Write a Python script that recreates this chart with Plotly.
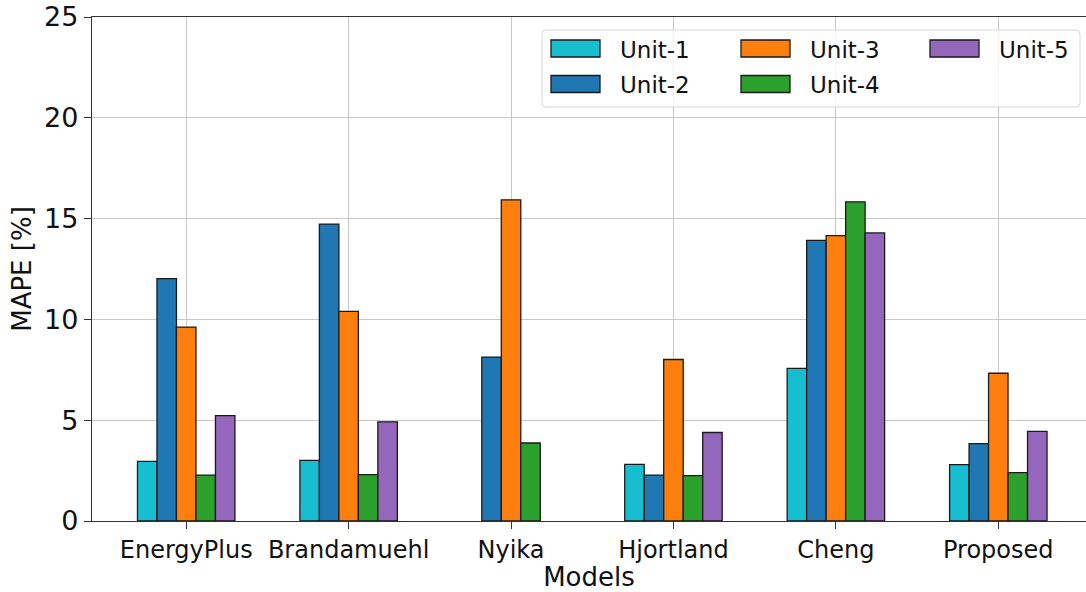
import plotly.graph_objects as go

# Models compared and per-unit MAPE values [%]
models = ["EnergyPlus", "Brandamuehl", "Nyika", "Hjortland", "Cheng", "Proposed"]
units = ["Unit-1", "Unit-2", "Unit-3", "Unit-4", "Unit-5"]

unit_1 = [2.96, 3.01, None, 2.81, 7.57, 2.80]
unit_2 = [12.02, 14.73, 8.13, 2.28, 13.92, 3.84]
unit_3 = [9.62, 10.40, 15.93, 8.01, 14.16, 7.33]
unit_4 = [2.28, 2.30, 3.87, 2.25, 15.83, 2.40]
unit_5 = [5.23, 4.92, None, 4.39, 14.29, 4.45]

y_ticks = [0, 5, 10, 15, 20, 25]

colors = ["#17becf", "#1f77b4", "#ff7f0e", "#2ca02c", "#9467bd"]
series = [unit_1, unit_2, unit_3, unit_4, unit_5]

FONT = "DejaVu Sans"
FIG_W, FIG_H = 1086, 592
M_L, M_R, M_T, M_B = 92, 0, 17, 71
PLOT_W = FIG_W - M_L - M_R
PLOT_H = FIG_H - M_T - M_B


def px_x(x):
    """Pixel column -> paper x."""
    return (x - M_L) / PLOT_W


def px_y(y):
    """Pixel row -> paper y."""
    return (FIG_H - M_B - y) / PLOT_H


fig = go.Figure()
for name, vals, col in zip(units, series, colors):
    fig.add_trace(go.Bar(
        x=models, y=vals, name=name,
        marker=dict(color=col, line=dict(color="#1a1a1a", width=1.3)),
        showlegend=False,
    ))

# Legend: rounded frame, swatches and labels laid out in three columns
shapes = []
annotations = []
fx0, fx1, fy0, fy1, r = 542, 1080, 30, 107, 4
path = (
    f"M {px_x(fx0 + r)} {px_y(fy0)} L {px_x(fx1 - r)} {px_y(fy0)} "
    f"Q {px_x(fx1)} {px_y(fy0)} {px_x(fx1)} {px_y(fy0 + r)} "
    f"L {px_x(fx1)} {px_y(fy1 - r)} "
    f"Q {px_x(fx1)} {px_y(fy1)} {px_x(fx1 - r)} {px_y(fy1)} "
    f"L {px_x(fx0 + r)} {px_y(fy1)} "
    f"Q {px_x(fx0)} {px_y(fy1)} {px_x(fx0)} {px_y(fy1 - r)} "
    f"L {px_x(fx0)} {px_y(fy0 + r)} "
    f"Q {px_x(fx0)} {px_y(fy0)} {px_x(fx0 + r)} {px_y(fy0)} Z"
)
shapes.append(dict(type="path", xref="paper", yref="paper", path=path,
                   fillcolor="rgba(255,255,255,0.8)",
                   line=dict(color="#d6d6d6", width=1), layer="above"))

col_x = [551, 741, 930]
row_y = [48.5, 84]
sw_w, sw_h, text_gap = 49, 17, 20
for i, (name, col) in enumerate(zip(units, colors)):
    cx = col_x[i // 2]
    cy = row_y[i % 2]
    shapes.append(dict(type="rect", xref="paper", yref="paper",
                       x0=px_x(cx), x1=px_x(cx + sw_w),
                       y0=px_y(cy + sw_h / 2), y1=px_y(cy - sw_h / 2),
                       fillcolor=col, line=dict(color="#1a1a1a", width=1.3),
                       layer="above"))
    annotations.append(dict(xref="paper", yref="paper",
                            x=px_x(cx + sw_w + text_gap - 2), y=px_y(cy + 1),
                            xanchor="left", yanchor="middle", showarrow=False,
                            text=name, font=dict(family=FONT, size=23, color="#111")))

fig.update_layout(
    width=FIG_W, height=FIG_H,
    margin=dict(l=M_L, r=M_R, t=M_T, b=M_B, pad=0),
    paper_bgcolor="white", plot_bgcolor="white",
    barmode="group", bargap=0.4, bargroupgap=0,
    font=dict(family=FONT, size=23, color="#111"),
    shapes=shapes, annotations=annotations,
    xaxis=dict(
        range=[-0.58, 5.54],
        showline=True, linecolor="#333", linewidth=1.3, mirror=True,
        showgrid=True, gridcolor="#c8c8c8", gridwidth=1.3,
        ticks="outside", ticklen=7, tickcolor="#333", tickwidth=1.2,
        tickfont=dict(family=FONT, size=24, color="#111"),
        title=dict(text="Models", font=dict(family=FONT, size=26, color="#111"), standoff=6),
    ),
    yaxis=dict(
        range=[0, 25], tickvals=y_ticks,
        showline=True, linecolor="#333", linewidth=1.3, mirror=False,
        showgrid=True, gridcolor="#c8c8c8", gridwidth=1.3,
        zeroline=False,
        ticks="outside", ticklen=7, tickcolor="#333", tickwidth=1.2,
        tickfont=dict(family=FONT, size=27, color="#111"),
        title=dict(text="MAPE [%]", font=dict(family=FONT, size=26, color="#111"), standoff=4),
    ),
)

fig.write_html("out.html")
